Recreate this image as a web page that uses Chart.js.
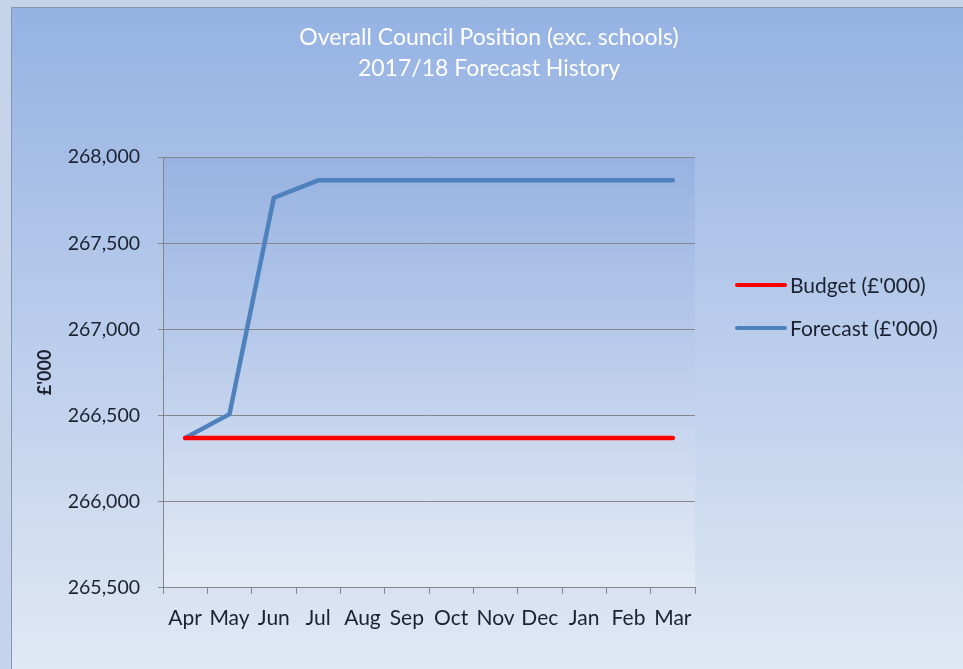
<!DOCTYPE html>
<html lang="en">
<head>
<meta charset="UTF-8">
<title>Overall Council Position</title>
<script src="https://cdn.jsdelivr.net/npm/chart.js"></script>
<style>
    html, body { margin: 0; padding: 0; background: #c5d3eb; }
    #wrap { position: relative; width: 963px; height: 669px; }
</style>
</head>
<body>
<div id="wrap">
    <canvas id="grafico" width="963" height="669"></canvas>
</div>

<script>
    // dados
    const meses = ['Apr', 'May', 'Jun', 'Jul', 'Aug', 'Sep', 'Oct', 'Nov', 'Dec', 'Jan', 'Feb', 'Mar'];
    const budget = [266370, 266370, 266370, 266370, 266370, 266370, 266370, 266370, 266370, 266370, 266370, 266370];
    const forecast = [266370, 266508, 267764, 267865, 267865, 267865, 267865, 267865, 267865, 267865, 267865, 267865];
    const titulo = ['Overall Council Position (exc. schools)', '2017/18 Forecast History'];
    const eixoY = { min: 265500, max: 268000, passo: 500 };

    const corTexto = '#1b2230';
    const fonte = 'Lato, "Open Sans", sans-serif';

    // fundo da janela e da area do grafico
    const fundo = {
        id: 'fundo',
        beforeDraw(chart) {
            const ctx = chart.ctx;
            const a = chart.chartArea;
            ctx.save();
            ctx.fillStyle = '#c5d3eb';
            ctx.fillRect(0, 0, chart.width, chart.height);
            let g = ctx.createLinearGradient(0, 7, 0, chart.height);
            g.addColorStop(0, '#95b2e3');
            g.addColorStop(1, '#e0e8f4');
            ctx.fillStyle = g;
            ctx.fillRect(11, 7, chart.width - 11, chart.height - 7);
            ctx.strokeStyle = '#8796b0';
            ctx.lineWidth = 1;
            ctx.beginPath();
            ctx.moveTo(11.5, chart.height);
            ctx.lineTo(11.5, 7.5);
            ctx.lineTo(chart.width, 7.5);
            ctx.stroke();
            g = ctx.createLinearGradient(0, a.top, 0, a.bottom);
            g.addColorStop(0, '#97b2e2');
            g.addColorStop(1, '#e3eaf5');
            ctx.fillStyle = g;
            ctx.fillRect(a.left, a.top, a.right - a.left, a.bottom - a.top);
            ctx.restore();
        }
    };

    // legenda desenhada a direita
    const legenda = {
        id: 'legenda',
        afterDraw(chart) {
            const ctx = chart.ctx;
            ctx.save();
            ctx.font = '21px ' + fonte;
            ctx.textBaseline = 'middle';
            chart.data.datasets.forEach((ds, i) => {
                const y = 285 + i * 43;
                ctx.strokeStyle = ds.borderColor;
                ctx.lineWidth = 4;
                ctx.lineCap = 'round';
                ctx.beginPath();
                ctx.moveTo(737, y);
                ctx.lineTo(785, y);
                ctx.stroke();
                ctx.fillStyle = corTexto;
                ctx.fillText(ds.label, 790, y + 1);
            });
            ctx.restore();
        }
    };

    const ctxGrafico = document.getElementById('grafico').getContext('2d');
    const grafico = new Chart(ctxGrafico, {
        type: 'line',
        data: {
            labels: meses,
            datasets: [{
                label: "Budget (£'000)",
                data: budget,
                borderColor: '#ff0000',
                borderWidth: 4.5,
                borderCapStyle: 'round',
                pointRadius: 0,
                tension: 0
            }, {
                label: "Forecast (£'000)",
                data: forecast,
                borderColor: '#4f81bd',
                borderWidth: 4.5,
                borderCapStyle: 'round',
                borderJoinStyle: 'round',
                pointRadius: 0,
                tension: 0
            }]
        },
        options: {
            responsive: false,
            animation: false,
            layout: { padding: { left: 15, right: 0, top: 0, bottom: 26 } },
            plugins: {
                legend: { display: false },
                tooltip: { enabled: false },
                title: {
                    display: true,
                    text: titulo,
                    color: '#ffffff',
                    font: { family: fonte, size: 23, weight: 'normal', lineHeight: 1.35 },
                    padding: { top: 22, bottom: 73 }
                }
            },
            scales: {
                x: {
                    offset: true,
                    grid: { display: true, drawOnChartArea: false, offset: true, tickLength: 6, color: '#868686' },
                    border: { color: '#868686' },
                    ticks: { color: corTexto, padding: 12, maxRotation: 0, autoSkip: false, font: { family: fonte, size: 21 } }
                },
                y: {
                    min: eixoY.min,
                    max: eixoY.max,
                    afterFit(scale) { scale.width = 148; },
                    title: {
                        display: true,
                        text: "£'000",
                        color: corTexto,
                        padding: { top: 19, bottom: 0 },
                        font: { family: fonte, size: 18, weight: 'bold' }
                    },
                    grid: { color: '#868686', tickLength: 5 },
                    border: { color: '#868686' },
                    ticks: {
                        stepSize: eixoY.passo,
                        padding: 18,
                        color: corTexto,
                        font: { family: fonte, size: 19.5 },
                        callback: v => v.toLocaleString('en-GB')
                    }
                },
                // eixo vazio so para reservar o espaco da legenda
                lado: {
                    position: 'right',
                    afterFit(scale) { scale.width = 268; },
                    grid: { display: false },
                    border: { display: false },
                    ticks: { display: false }
                }
            }
        },
        plugins: [fundo, legenda]
    });
</script>
</body>
</html>
